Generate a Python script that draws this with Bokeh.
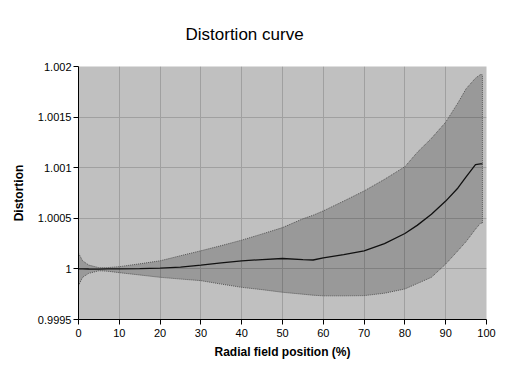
from bokeh.plotting import figure
from bokeh.models import (Title, FixedTicker, CustomJSTickFormatter, Range1d,
                          ColumnDataSource)
from bokeh.embed import file_html
from bokeh.resources import INLINE

# ---- data ----
position = [0, 1, 2.5, 5, 7, 10, 15, 20, 25, 30, 35, 40, 45, 50, 55, 57.5,
            60, 65, 70, 75, 80, 83, 86.5, 90, 93, 95, 97.3, 98.5, 99]
upper = [1.000155, 1.000080, 1.000038, 1.000012, 1.000012, 1.000022,
         1.000050, 1.000080, 1.000130, 1.000179, 1.000230, 1.000284,
         1.000345, 1.000408, 1.000495, 1.000530, 1.000573, 1.000670,
         1.000770, 1.000885, 1.001010, 1.001150, 1.001290, 1.001450,
         1.001640, 1.001780, 1.001885, 1.001920, 1.001920]
center = [1.000000, 1.000000, 0.999999, 0.999998, 1.000000, 1.000000,
          1.000003, 1.000008, 1.000018, 1.000038, 1.000060, 1.000080,
          1.000092, 1.000103, 1.000092, 1.000088, 1.000110, 1.000140,
          1.000179, 1.000250, 1.000350, 1.000430, 1.000540, 1.000670,
          1.000800, 1.000910, 1.001030, 1.001038, 1.001038]
lower = [0.999835, 0.999917, 0.999956, 0.999982, 0.999978, 0.999963,
         0.999940, 0.999917, 0.999900, 0.999884, 0.999850, 0.999818,
         0.999795, 0.999769, 0.999750, 0.999740, 0.999734, 0.999734,
         0.999736, 0.999760, 0.999802, 0.999855, 0.999917, 1.000048,
         1.000180, 1.000270, 1.000393, 1.000450, 1.000455]

x_ticks = [0, 10, 20, 30, 40, 50, 60, 70, 80, 90, 100]
y_ticks = [0.9995, 1.0, 1.0005, 1.001, 1.0015, 1.002]

title_text = "Distortion curve"
x_label = "Radial field position (%)"
y_label = "Distortion"

FONT = "Liberation Sans"

p = figure(width=512, height=366, output_backend="svg", toolbar_location=None,
           x_range=Range1d(0, 100), y_range=Range1d(0.9995, 1.002),
           min_border_left=78, min_border_right=26,
           min_border_top=65, min_border_bottom=47)
p.title = None
p.border_fill_color = "white"
p.outline_line_color = None
p.background_fill_color = "#c0c0c0"

t = Title(text=title_text, align="left", offset=107, standoff=45,
          text_font=FONT, text_font_size="17px", text_font_style="normal",
          text_color="black")
p.add_layout(t, "above")

src = ColumnDataSource(dict(x=position, up=upper, c=center, lo=lower))

p.varea(x="x", y1="lo", y2="up", source=src, fill_color="black",
        fill_alpha=0.2)
p.line(x="x", y="up", source=src, line_color="#555555", line_width=1,
       line_dash="1 1")
p.line(x="x", y="lo", source=src, line_color="#555555", line_width=1,
       line_dash="1 1")
p.segment(x0=[position[-1]], y0=[lower[-1]], x1=[position[-1]], y1=[upper[-1]],
          line_color="#555555", line_width=1, line_dash="1 1")
p.line(x="x", y="c", source=src, line_color="#111111", line_width=1.3)

p.xaxis.ticker = FixedTicker(ticks=x_ticks)
p.yaxis.ticker = FixedTicker(ticks=y_ticks)
p.yaxis.formatter = CustomJSTickFormatter(
    code="return String(+tick.toFixed(4));")

for ax in (p.xaxis[0], p.yaxis[0]):
    ax.axis_line_color = "black"
    ax.axis_line_width = 1
    ax.major_tick_line_color = "black"
    ax.major_tick_in = 0
    ax.major_tick_out = 5
    ax.minor_tick_line_color = None
    ax.major_label_text_font = FONT
    ax.major_label_text_font_size = "11px"
    ax.major_label_text_color = "black"
    ax.axis_label_text_font = FONT
    ax.axis_label_text_font_size = "12px"
    ax.axis_label_text_font_style = "bold"
    ax.axis_label_text_color = "black"

p.xaxis.axis_label = x_label
p.yaxis.axis_label = y_label
p.xaxis.major_label_standoff = 4
p.yaxis.major_label_standoff = 2
p.xaxis.axis_label_standoff = 5
p.yaxis.axis_label_standoff = 9

p.grid.grid_line_color = "#a0a0a0"
p.grid.grid_line_width = 1
p.grid.grid_line_alpha = 1

open("out.html", "w").write(file_html(p, INLINE))
